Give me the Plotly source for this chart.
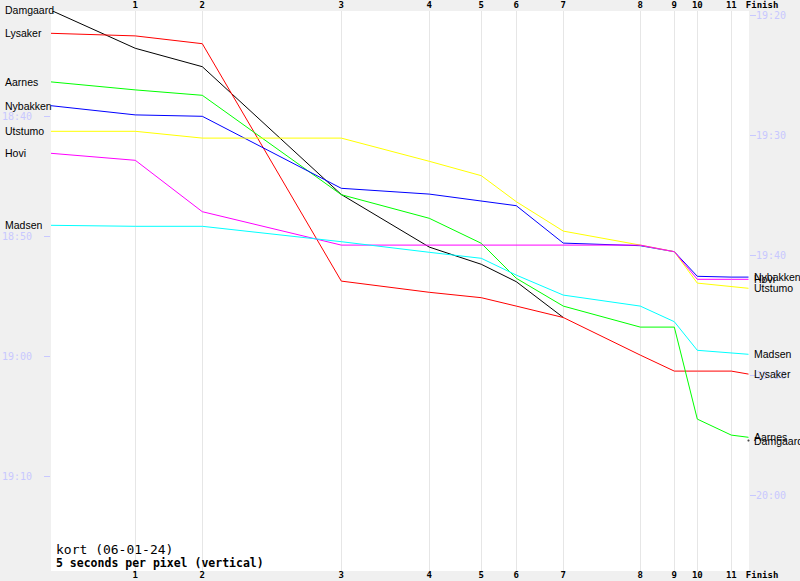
import plotly.graph_objects as go

# ---------------- data ----------------
control_labels = ["Start", "1", "2", "3", "4", "5", "6", "7", "8", "9", "10", "11", "Finish"]
# horizontal position of each control (reference cumulative leg scale)
control_x = [0, 84.3, 151.3, 290.3, 378.3, 430.3, 465.3, 512.3, 589.3, 623.3, 646.3, 680.3, 697.5]

runners = ["Damgaard", "Lysaker", "Aarnes", "Nybakken", "Utstumo", "Hovi", "Madsen"]
colors = ["#000000", "#ff0000", "#00ff00", "#0000ff", "#ffff00", "#ff00ff", "#00ffff"]

# vertical value: seconds relative to 18:40:00 on the left (start-time) scale
damgaard = [-532, -342, -250, 389, 652, 738, 825, 1004, None, None, None, None, 1619]
lysaker = [-417, -404, -365, 822, 878, 905, 947, 1004, 1192, 1272, 1272, 1272, 1287]
aarnes = [-174, -134, -107, 390, 508, 633, 808, 947, 1052, 1052, 1512, 1592, 1603]
nybakken = [-55, -9, -2, 358, 387, 420, 445, 632, 645, 675, 798, 802, 802]
utstumo = [73, 73, 107, 107, 223, 295, 425, 572, 642, 675, 832, 848, 858]
hovi = [183, 218, 475, 642, 642, 642, 642, 642, 642, 675, 813, 813, 813]
madsen = [543, 548, 548, 625, 678, 708, 792, 892, 947, 1025, 1168, 1183, 1188]
series = [damgaard, lysaker, aarnes, nybakken, utstumo, hovi, madsen]

left_tick_labels = ["18:40", "18:50", "19:00", "19:10"]
right_tick_labels = ["19:20", "19:30", "19:40", "19:50", "20:00"]
finish_offset = 2905  # seconds between left (start) scale and right (finish) scale

title_line1 = "kort (06-01-24)"
title_line2 = "5 seconds per pixel (vertical)"

# ---------------- helpers ----------------
def clock_to_rel(s):
    h, m = s.split(":")
    return (int(h) * 3600 + int(m) * 60) - (18 * 3600 + 40 * 60)

left_vals = [clock_to_rel(s) for s in left_tick_labels]
right_vals = [clock_to_rel(s) - finish_offset for s in right_tick_labels]

y_range = [2271.5, -528.5]
x_range = [0, 698]
plot_w = 698.0
plot_h = 560.0


def y_to_paper(v):
    return (y_range[0] - v) / (y_range[0] - y_range[1])


fig = go.Figure()
for name, col, ys in zip(runners, colors, series):
    sizes = [0] * len(ys)
    mode = "lines"
    if name == "Damgaard":
        sizes[-1] = 3
        mode = "lines+markers"
    fig.add_trace(go.Scatter(
        x=control_x, y=ys, mode=mode, name=name,
        line=dict(color=col, width=1),
        marker=dict(size=sizes, color=col),
        connectgaps=False, showlegend=False, hoverinfo="skip", cliponaxis=False,
    ))

# invisible trace to activate secondary axes
fig.add_trace(go.Scatter(x=[None], y=[None], xaxis="x2", yaxis="y2", showlegend=False, hoverinfo="skip"))

annotations = []
label_font = dict(family="Liberation Sans, Arial, sans-serif", size=10.5, color="#000000")
for name, ys in zip(runners, series):
    annotations.append(dict(x=-48 / plot_w, y=y_to_paper(ys[0]), xref="paper", yref="paper", text=name,
                            showarrow=False, xanchor="left", yanchor="middle", font=label_font))
    annotations.append(dict(x=700.5 / plot_w, y=y_to_paper(ys[-1]), xref="paper", yref="paper", text=name,
                            showarrow=False, xanchor="left", yanchor="middle", font=label_font))

annotations.append(dict(x=3 / plot_w, y=22 / plot_h, xref="paper", yref="paper", text=title_line1,
                        showarrow=False, xanchor="left", yanchor="middle",
                        font=dict(family="DejaVu Sans Mono, monospace", size=13, color="#000000")))
annotations.append(dict(x=3 / plot_w, y=8 / plot_h, xref="paper", yref="paper", text="<b>" + title_line2 + "</b>",
                        showarrow=False, xanchor="left", yanchor="middle",
                        font=dict(family="DejaVu Sans Mono, monospace", size=11.5, color="#000000")))

xtick_text = control_labels[1:-1] + ["\u00a0" * 5 + "Finish"]
tick_font_x = dict(family="DejaVu Sans Mono, monospace", size=9, color="#000000", weight="bold")
tick_font_y = dict(family="DejaVu Sans Mono, monospace", size=10, color="#c8c8ff")

fig.update_layout(
    width=800, height=581,
    margin=dict(l=51, r=51, t=11, b=10, pad=0, autoexpand=False),
    paper_bgcolor="#f0f0f0", plot_bgcolor="#ffffff",
    annotations=annotations,
    hovermode=False,
    xaxis=dict(range=x_range, tickvals=control_x[1:], ticktext=xtick_text, showgrid=True,
               gridcolor="#e6e6e6", gridwidth=1, zeroline=False, showline=False, ticks="",
               tickfont=tick_font_x, side="bottom", tickangle=0, automargin=False,
               ticklabelstandoff=-3),
    xaxis2=dict(range=x_range, tickvals=control_x[1:], ticktext=xtick_text, showgrid=False,
                zeroline=False, showline=False, ticks="", tickfont=tick_font_x,
                side="top", overlaying="x", anchor="y", tickangle=0, automargin=False),
    yaxis=dict(range=y_range, tickvals=left_vals, ticktext=left_tick_labels, showgrid=False,
               zeroline=False, showline=False, ticks="outside", ticklen=6, tickcolor="#c8c8ff",
               tickfont=tick_font_y, ticklabelstandoff=10, automargin=False),
    yaxis2=dict(range=y_range, tickvals=right_vals, ticktext=right_tick_labels, showgrid=False,
                zeroline=False, showline=False, ticks="outside", ticklen=6, tickcolor="#c8c8ff",
                tickfont=tick_font_y, side="right", overlaying="y", anchor="x", automargin=False,
                ticklabelstandoff=-2),
)

fig.write_html("out.html", config={"displayModeBar": False},
               post_script="document.body.style.margin='0px';")
